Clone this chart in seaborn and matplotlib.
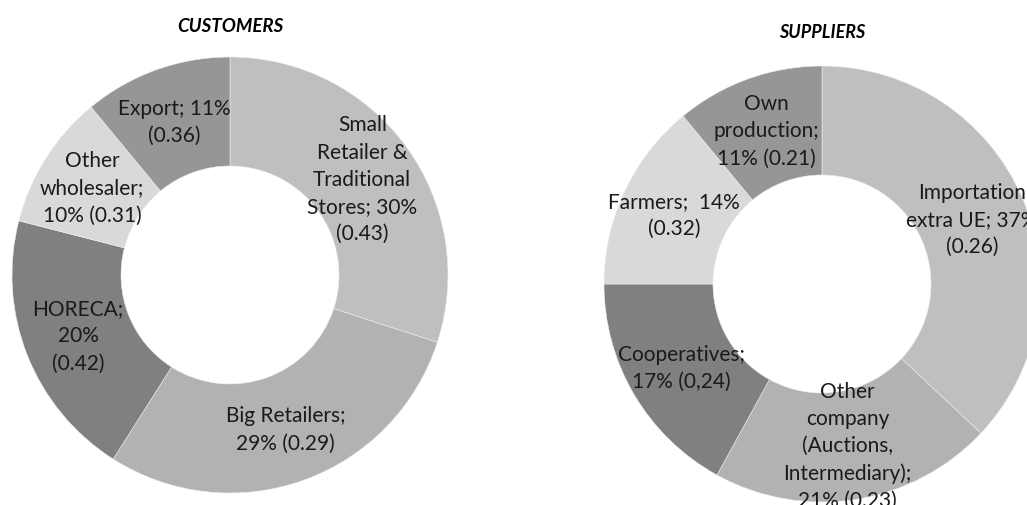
import matplotlib
matplotlib.use("Agg")
import matplotlib.pyplot as plt
import seaborn as sns

# Customers breakdown (clockwise from 12 o'clock)
cust_labels = [
    "Small\nRetailer &\nTraditional\nStores; 30%\n(0.43)",
    "Big Retailers;\n29% (0.29)",
    "HORECA;\n20%\n(0.42)",
    "Other\nwholesaler;\n10% (0.31)",
    "Export; 11%\n(0.36)",
]
cust_values = [30, 29, 20, 10, 11]
cust_colors = ["#bfbfbf", "#b2b2b2", "#808080", "#d9d9d9", "#969696"]

# Suppliers breakdown
supp_labels = [
    "Importation\nextra UE; 37%\n(0.26)",
    "Other\ncompany\n(Auctions,\nIntermediary);\n21% (0.23)",
    "Cooperatives;\n17% (0,24)",
    "Farmers;  14%\n(0.32)",
    "Own\nproduction;\n11% (0.21)",
]
supp_values = [37, 21, 17, 14, 11]
supp_colors = ["#bfbfbf", "#b2b2b2", "#808080", "#d9d9d9", "#969696"]

sns.set_theme(style="white")
plt.rcParams["font.family"] = ["Lato", "DejaVu Sans"]

W, H = 1027, 506
fig = plt.figure(figsize=(W / 100, H / 100), dpi=100)
fig.patch.set_facecolor("white")


def donut(ax, values, labels, colors):
    wedges, texts = ax.pie(
        values, labels=labels, colors=colors, startangle=90, counterclock=False,
        radius=1.0, labeldistance=0.75,
        wedgeprops=dict(width=0.5, edgecolor="#eeeeee", linewidth=0.4),
        textprops=dict(fontsize=15, color="#1a1a1a", linespacing=1.45),
    )
    for t in texts:
        t.set_ha("center")
        t.set_va("center")
        t.set_multialignment("center")
    ax.set_xlim(-1, 1)
    ax.set_ylim(-1, 1)
    ax.set_aspect("equal")
    ax.axis("off")


R = 218
ax1 = fig.add_axes([(230 - R) / W, (H - 276 - R) / H, 2 * R / W, 2 * R / H])
donut(ax1, cust_values, cust_labels, cust_colors)

ax2 = fig.add_axes([(822 - R) / W, (H - 285 - R) / H, 2 * R / W, 2 * R / H])
donut(ax2, supp_values, supp_labels, supp_colors)

fig.text(230 / W, 1 - 27 / H, "CUSTOMERS", ha="center", va="center",
         fontsize=13.5, fontweight="bold", fontstyle="italic", color="black")
fig.text(822 / W, 1 - 33 / H, "SUPPLIERS", ha="center", va="center",
         fontsize=13, fontweight="bold", fontstyle="italic", color="black")

fig.savefig("out.png", dpi=100, facecolor="white")
